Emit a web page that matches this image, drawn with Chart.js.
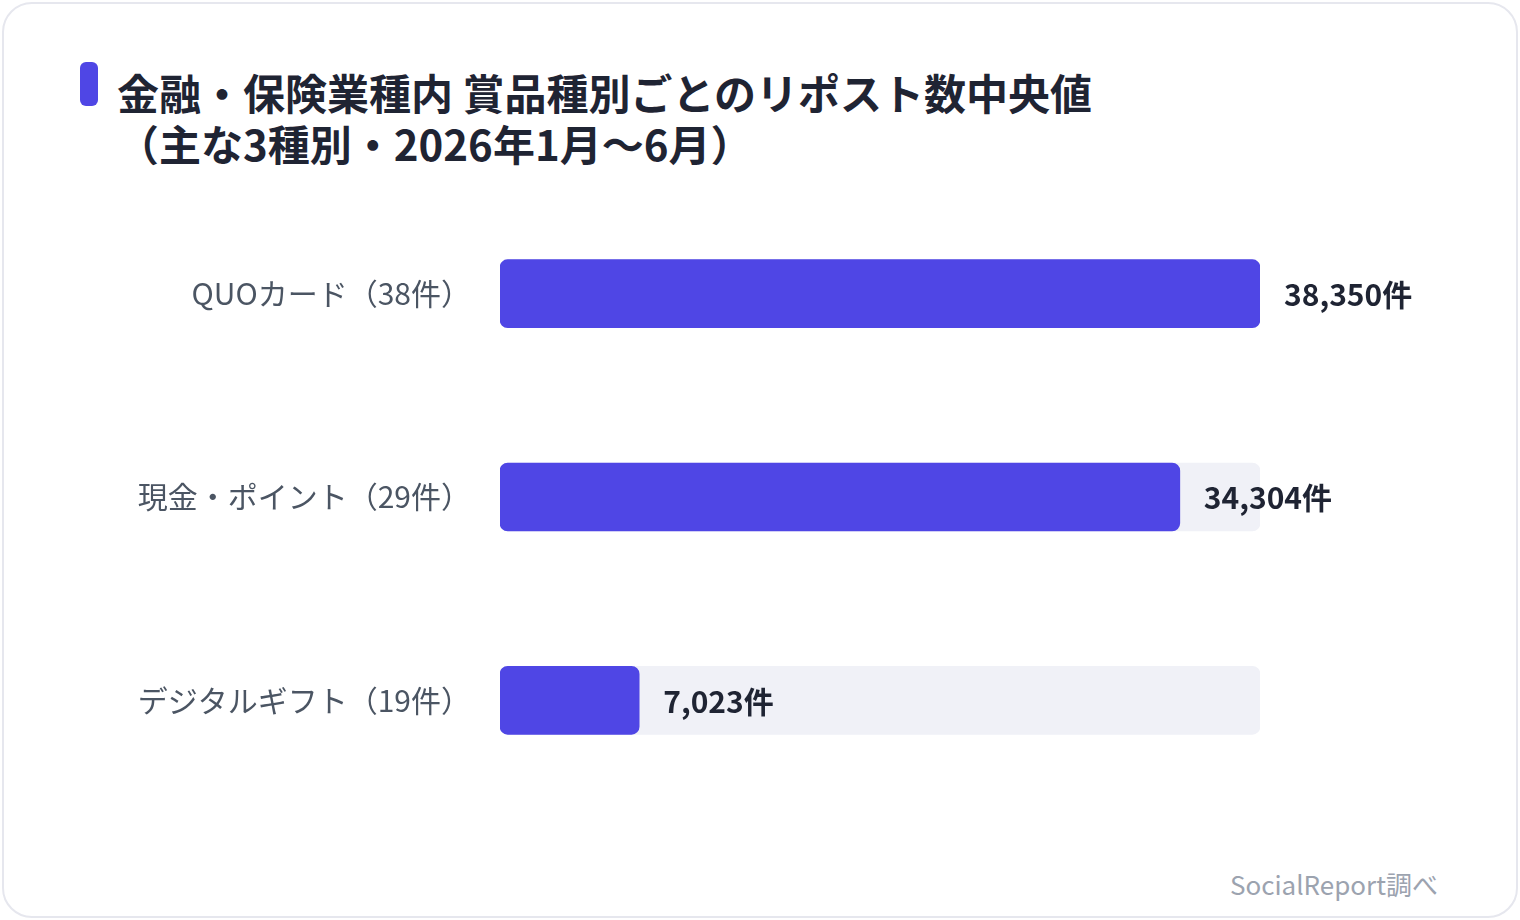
<!DOCTYPE html>
<html lang="ja">
<head>
<meta charset="utf-8">
<script src="https://cdn.jsdelivr.net/npm/chart.js@4.4.1/dist/chart.umd.min.js"></script>
<style>
  html, body { margin:0; padding:0; background:#ffffff; }
  body { width:1520px; height:920px; position:relative; overflow:hidden;
         font-family:"Noto Sans CJK JP","Noto Sans",sans-serif; }
  .card { position:absolute; left:2px; top:2px; width:1512px; height:912px;
          border:2px solid #E6E7EE; border-radius:30px; background:#fff; box-sizing:content-box; }
  .accent { position:absolute; left:80px; top:62px; width:18px; height:44px;
            background:#4F46E5; border-radius:6px; }
  .title { position:absolute; left:117px; top:66px; font-size:42px; font-weight:700;
           line-height:51px; color:#1F2433; white-space:nowrap; letter-spacing:0; }
  .source { position:absolute; right:82px; top:867px; font-size:26px; color:#9CA3AF;
            line-height:34px; white-space:nowrap; }
  #wrap { position:absolute; left:0; top:0; width:1520px; height:920px; }
</style>
</head>
<body>
<div class="card"></div>
<div class="accent"></div>
<div class="title">金融・保険業種内 賞品種別ごとのリポスト数中央値<br>（主な3種別・2026年1月〜6月）</div>
<div class="source">SocialReport調べ</div>
<div id="wrap"><canvas id="c"></canvas></div>
<script>
const categories = ["QUOカード（38件）", "現金・ポイント（29件）", "デジタルギフト（19件）"];
const medianReposts = [38350, 34304, 7023];
const valueLabels = ["38,350件", "34,304件", "7,023件"];
const axisMax = 38350;
const trackValues = [38350, 38350, 38350];

const valueLabelPlugin = {
  id: 'valueLabels',
  afterDatasetsDraw(chart) {
    const meta = chart.getDatasetMeta(0);
    const ctx = chart.ctx;
    ctx.save();
    ctx.font = '700 30px "Noto Sans CJK JP", "Noto Sans", sans-serif';
    ctx.fillStyle = '#1F2433';
    ctx.textAlign = 'left';
    ctx.textBaseline = 'middle';
    meta.data.forEach((bar, i) => {
      ctx.fillText(valueLabels[i], bar.x + 24, bar.y + 1);
    });
    ctx.restore();
  }
};

new Chart(document.getElementById('c'), {
  type: 'bar',
  data: {
    labels: categories,
    datasets: [
      {
        data: medianReposts,
        backgroundColor: '#4F46E5',
        borderRadius: 8,
        borderSkipped: false,
        grouped: false,
        barThickness: 68
      },
      {
        data: trackValues,
        backgroundColor: '#F0F1F7',
        borderRadius: 8,
        borderSkipped: false,
        grouped: false,
        barThickness: 68
      }
    ]
  },
  options: {
    indexAxis: 'y',
    responsive: true,
    maintainAspectRatio: false,
    animation: false,
    devicePixelRatio: 1,
    layout: { padding: { left: 0, right: 260, top: 192, bottom: 118 } },
    plugins: { legend: { display: false }, tooltip: { enabled: false } },
    scales: {
      x: { min: 0, max: axisMax, display: false },
      y: {
        grid: { display: false, drawTicks: false },
        border: { display: false },
        afterFit(scale) { scale.width = 500; },
        ticks: {
          padding: 29,
          color: '#4B5563',
          font: { family: '"Noto Sans CJK JP", "Noto Sans", sans-serif', size: 30, weight: '400' }
        }
      }
    }
  },
  plugins: [valueLabelPlugin]
});
</script>
</body>
</html>
